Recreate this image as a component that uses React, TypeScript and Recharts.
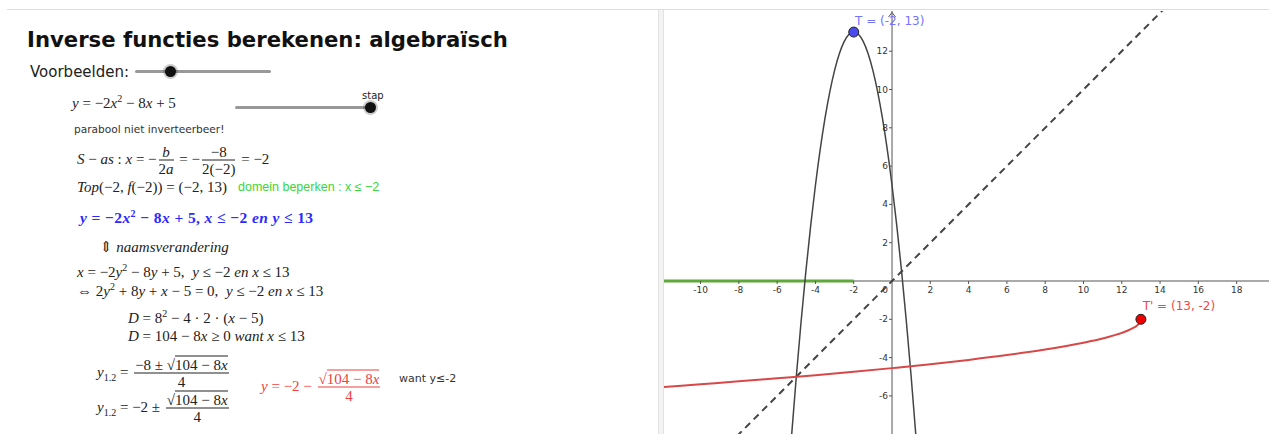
import React from 'react';
import { ComposedChart, Line, XAxis, YAxis, ReferenceLine, ReferenceDot } from 'recharts';

// f(x) = -2x^2 - 8x + 5
const parabolaX = [-5.24, -5, -4.75, -4.5, -4.25, -4, -3.5, -3, -2.5, -2, -1.5, -1, -0.5, 0, 0.25, 0.5, 0.75, 1, 1.24];
const parabolaY = [-8, -5, -2.13, 0.5, 2.88, 5, 8.5, 11, 12.5, 13, 12.5, 11, 8.5, 5, 2.88, 0.5, -2.13, -5, -8];

// inverse branch y = -2 - sqrt(104 - 8x) / 4
const inverseX = [-12, -10, -8, -6, -4, -2, 0, 2, 4, 6, 8, 10, 11, 12, 12.5, 12.8, 12.95, 12.99, 13];
const inverseY = [-5.54, -5.39, -5.24, -5.08, -4.92, -4.74, -4.55, -4.35, -4.12, -3.87, -3.58, -3.22, -3, -2.71, -2.5, -2.32, -2.16, -2.07, -2];

const mirrorX = [-9, 15];
const mirrorY = [-9, 15];

const domainX = [-12, -2];
const domainY = [0, 0];

const xTicks = [-10, -8, -6, -4, -2, 2, 4, 6, 8, 10, 12, 14, 16, 18];
const yTicks = [-6, -4, -2, 2, 4, 6, 8, 10, 12];

const top = { x: -2, y: 13, label: 'T = (-2, 13)' };
const topInv = { x: 13, y: -2, label: "T' = (13, -2)" };

const X_DOMAIN = [-11.91, 19.69];
const Y_DOMAIN = [-7.99, 14.1];

const pts = (xs: number[], ys: number[]) => xs.map((x, i) => ({ x, y: ys[i] }));

const serif = '"Liberation Serif", "DejaVu Serif", serif';
const sans = '"DejaVu Sans", "Noto Sans", sans-serif';
const arial = '"Liberation Sans", Arial, sans-serif';

function Row({ x, y, color = '#222', bold = false, children }: any) {
  return (
    <div
      style={{
        position: 'absolute',
        left: x,
        top: y,
        transform: 'translateY(-50%)',
        whiteSpace: 'nowrap',
        fontFamily: serif,
        fontSize: bold ? 15.5 : 15,
        letterSpacing: bold ? 0.4 : 0,
        color,
        fontWeight: bold ? 700 : 400,
        lineHeight: '16px',
      }}
    >
      <span>{children}</span>
    </div>
  );
}

function Frac({ n, d }: any) {
  return (
    <span
      style={{
        display: 'inline-flex',
        flexDirection: 'column',
        alignItems: 'center',
        verticalAlign: 'middle',
        margin: '0 2px',
      }}
    >
      <span style={{ padding: '0 1px', lineHeight: '16px' }}>{n}</span>
      <span style={{ borderTop: '1px solid currentColor', width: '100%', textAlign: 'center', lineHeight: '16px' }}>{d}</span>
    </span>
  );
}

function Sqrt({ children }: any) {
  return (
    <span>
      √<span style={{ borderTop: '1px solid currentColor' }}>{children}</span>
    </span>
  );
}

const Sup = ({ children }: any) => <sup style={{ fontSize: 10, lineHeight: 0 }}>{children}</sup>;

function Label({ x, y, size, color, font = sans, children }: any) {
  return (
    <div
      style={{
        position: 'absolute',
        left: x,
        top: y,
        transform: 'translateY(-50%)',
        whiteSpace: 'nowrap',
        fontFamily: font,
        fontSize: size,
        color,
      }}
    >
      {children}
    </div>
  );
}

function Slider({ x, y, w, knob }: any) {
  return (
    <>
      <div style={{ position: 'absolute', left: x, top: y - 1.5, width: w, height: 3, background: '#999', borderRadius: 2 }} />
      <div
        style={{
          position: 'absolute',
          left: knob - 5.5,
          top: y - 5.5,
          width: 11,
          height: 11,
          borderRadius: '50%',
          background: '#111',
          boxShadow: '0 0 0 2px rgba(0,0,0,0.2)',
        }}
      />
    </>
  );
}

function Graph() {
  return (
    <ComposedChart width={605} height={423} margin={{ top: 0, right: 0, bottom: 0, left: 0 }}>
      <XAxis type="number" dataKey="x" domain={X_DOMAIN} allowDataOverflow hide />
      <YAxis type="number" dataKey="y" domain={Y_DOMAIN} allowDataOverflow hide />
      <ReferenceLine y={0} stroke="#555" strokeWidth={1} />
      <ReferenceLine x={0} stroke="#555" strokeWidth={1} />
      {xTicks.map((t) => (
        <ReferenceDot
          key={'x' + t}
          x={t}
          y={0}
          r={0}
          shape={(p: any) => (
            <g>
              <line x1={p.cx} x2={p.cx} y1={p.cy} y2={p.cy + 3} stroke="#555" />
              <text x={p.cx} y={p.cy + 12} textAnchor="middle" fontSize={9} fontFamily={sans} fill="#333">
                {t}
              </text>
            </g>
          )}
        />
      ))}
      {yTicks.map((t) => (
        <ReferenceDot
          key={'y' + t}
          x={0}
          y={t}
          r={0}
          shape={(p: any) => (
            <g>
              <line x1={p.cx - 3} x2={p.cx} y1={p.cy} y2={p.cy} stroke="#555" />
              <text x={p.cx - 4} y={p.cy + 3} textAnchor="end" fontSize={9} fontFamily={sans} fill="#333">
                {t}
              </text>
            </g>
          )}
        />
      ))}
      <ReferenceDot
        x={0}
        y={0}
        r={0}
        shape={(p: any) => (
          <text x={p.cx - 4} y={p.cy + 12} textAnchor="end" fontSize={9} fontFamily={sans} fill="#333">
            0
          </text>
        )}
      />
      <ReferenceDot
        x={0}
        y={Y_DOMAIN[1]}
        r={0}
        ifOverflow="visible"
        shape={(p: any) => (
          <path d={`M${p.cx - 3.5},${p.cy + 6} L${p.cx},${p.cy + 1.5} L${p.cx + 3.5},${p.cy + 6}`} fill="none" stroke="#555" />
        )}
      />
      <Line data={pts(domainX, domainY)} dataKey="y" stroke="#5fa83a" strokeWidth={3} dot={false} isAnimationActive={false} />
      <Line
        data={pts(mirrorX, mirrorY)}
        dataKey="y"
        stroke="#444"
        strokeWidth={2}
        strokeDasharray="7 5"
        dot={false}
        isAnimationActive={false}
      />
      <Line
        data={pts(parabolaX, parabolaY)}
        dataKey="y"
        type="monotone"
        stroke="#444"
        strokeWidth={1.5}
        dot={false}
        isAnimationActive={false}
      />
      <Line
        data={pts(inverseX, inverseY)}
        dataKey="y"
        type="monotone"
        stroke="#d84848"
        strokeWidth={2}
        dot={false}
        isAnimationActive={false}
      />
      <ReferenceDot
        x={top.x}
        y={top.y}
        r={5}
        fill="#4a4aee"
        stroke="#222"
        strokeWidth={1}
        label={{ value: top.label, position: 'top', dx: 36, dy: 3, fontSize: 12, fontFamily: sans, fill: '#7474ff' }}
      />
      <ReferenceDot
        x={topInv.x}
        y={topInv.y}
        r={5}
        fill="#ee0000"
        stroke="#222"
        strokeWidth={1}
        label={{ value: topInv.label, position: 'top', dx: 38, dy: 1, fontSize: 12, fontFamily: sans, fill: '#f04848' }}
      />
    </ComposedChart>
  );
}

export default function App() {
  return (
    <div
      style={{
        position: 'absolute',
        left: 0,
        top: 0,
        width: 1269,
        height: 434,
        overflow: 'hidden',
        background: '#fff',
        fontFamily: sans,
      }}
    >
      <div style={{ position: 'absolute', left: 7, top: 9, width: 1262, height: 1, background: '#dcdcdc' }} />
      <div
        style={{
          position: 'absolute',
          left: 658,
          top: 10,
          width: 4,
          height: 424,
          background: '#f3f3f3',
          borderLeft: '1px solid #e2e2e2',
          borderRight: '1px solid #e2e2e2',
        }}
      />

      <div
        style={{
          position: 'absolute',
          left: 27,
          top: 39,
          transform: 'translateY(-50%)',
          fontFamily: sans,
          fontWeight: 700,
          fontSize: 21.2,
          color: '#111',
          whiteSpace: 'nowrap',
        }}
      >
        Inverse functies berekenen: algebraïsch
      </div>

      <Label x={30} y={72} size={15} color="#222">
        Voorbeelden:
      </Label>
      <Slider x={135} y={71} w={136} knob={170} />
      <Label x={362} y={95} size={10} color="#222">
        stap
      </Label>
      <Slider x={235} y={107} w={135} knob={370} />

      <Row x={72} y={103}>
        <i>y</i> = −2<i>x</i>
        <Sup>2</Sup> − 8<i>x</i> + 5
      </Row>

      <Label x={74} y={129} size={10.6} color="#333">
        parabool niet inverteerbeer!
      </Label>

      <Row x={77} y={160}>
        <i>S</i> − <i>as</i> : <i>x</i> = −
        <Frac n={<i>b</i>} d={<>2<i>a</i></>} /> = −
        <Frac n="−8" d="2(−2)" /> = −2
      </Row>

      <Row x={77} y={187}>
        <i>Top</i>(−2, <i>f</i>(−2)) = (−2, 13)
      </Row>
      <Label x={238} y={187} size={12.5} color="#3ad53a" font={arial}>
        domein beperken : x ≤ −2
      </Label>

      <Row x={80} y={218} color="#2a2aff" bold>
        <i>y</i> = −2<i>x</i>
        <Sup>2</Sup> − 8<i>x</i> + 5, <i>x</i> ≤ −2 <i>en y</i> ≤ 13
      </Row>

      <Row x={100} y={247}>
        ⇕ <i>naamsverandering</i>
      </Row>

      <Row x={77} y={272}>
        <i>x</i> = −2<i>y</i>
        <Sup>2</Sup> − 8<i>y</i> + 5, &nbsp;<i>y</i> ≤ −2 <i>en x</i> ≤ 13
      </Row>
      <Row x={77} y={291}>
        ⇔ 2<i>y</i>
        <Sup>2</Sup> + 8<i>y</i> + <i>x</i> − 5 = 0, &nbsp;<i>y</i> ≤ −2 <i>en x</i> ≤ 13
      </Row>

      <Row x={128} y={318}>
        <i>D</i> = 8<Sup>2</Sup> − 4 · 2 · (<i>x</i> − 5)
      </Row>
      <Row x={128} y={336}>
        <i>D</i> = 104 − 8<i>x</i> ≥ 0 <i>want x</i> ≤ 13
      </Row>

      <Row x={97} y={373}>
        <i>y</i>
        <sub style={{ fontSize: 10 }}>1.2</sub> ={' '}
        <Frac
          n={
            <>
              −8 ± <Sqrt>104 − 8<i>x</i></Sqrt>
            </>
          }
          d="4"
        />
      </Row>
      <Row x={97} y={408}>
        <i>y</i>
        <sub style={{ fontSize: 10 }}>1.2</sub> = −2 ±{' '}
        <Frac n={<Sqrt>104 − 8<i>x</i></Sqrt>} d="4" />
      </Row>

      <Row x={261} y={387} color="#f04040">
        <i>y</i> = −2 −{' '}
        <Frac n={<Sqrt>104 − 8<i>x</i></Sqrt>} d="4" />
      </Row>
      <Label x={399} y={378} size={11} color="#333">
        want y≤-2
      </Label>

      <div style={{ position: 'absolute', left: 664, top: 11 }}>
        <Graph />
      </div>
    </div>
  );
}
